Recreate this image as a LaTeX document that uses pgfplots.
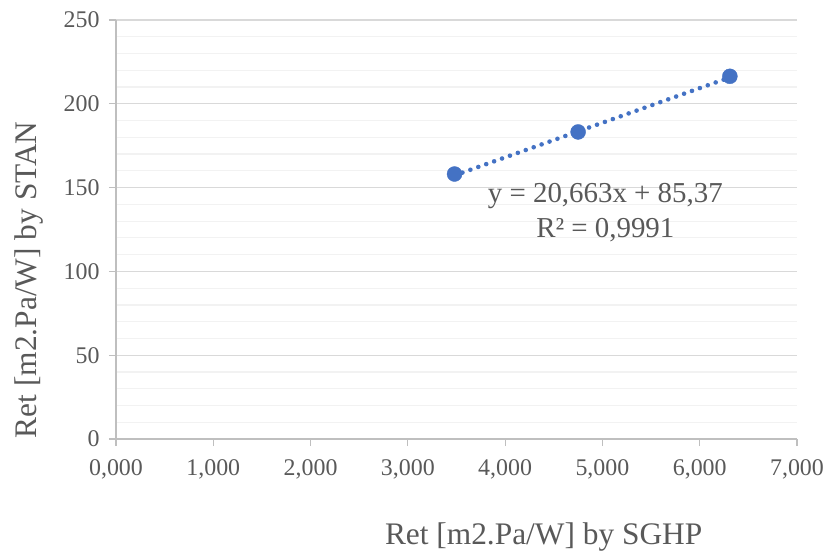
\documentclass[border=0pt]{standalone}
\usepackage{pgfplots}
\pgfplotsset{compat=1.18}
\usepackage{fontspec}
\setmainfont{Liberation Serif}
\definecolor{txt}{HTML}{595959}
\definecolor{majg}{HTML}{D9D9D9}
\definecolor{ming}{HTML}{F2F2F2}
\definecolor{axl}{HTML}{BFBFBF}
\definecolor{ser}{HTML}{4472C4}
\begin{document}
\begin{tikzpicture}
\path[use as bounding box] (-116bp,-116bp) rectangle (710bp,439bp);
\begin{axis}[
  scale only axis,
  width=681bp, height=419bp,
  xmin=0, xmax=7, ymin=0, ymax=250,
  xtick={0,1,2,3,4,5,6,7},
  ytick={0,50,100,150,200,250},
  minor y tick num=4,
  ymajorgrids, yminorgrids,
  major grid style={majg, line width=1.2bp},
  minor grid style={ming, line width=1.2bp},
  axis x line*=bottom, axis y line*=left,
  axis line style={axl, line width=1.2bp, -},
  tick style={axl, line width=1.2bp},
  major tick length=7bp, minor tick length=0pt,
  tick align=outside,
  xtick pos=bottom, ytick pos=left,
  tick label style={font=\fontsize{24}{26}\selectfont, text=txt},
  /pgf/number format/assume math mode=true,
  xticklabel style={/pgf/number format/.cd, fixed, fixed zerofill, precision=3, use comma, /tikz/.cd, yshift=-10bp},
  yticklabel style={/pgf/number format/.cd, fixed, precision=0, /tikz/.cd, xshift=-6bp},
  xlabel={Ret [m2.Pa/W] by SGHP},
  ylabel={Ret [m2.Pa/W] by STAN},
  label style={font=\fontsize{31.5}{34}\selectfont, text=txt},
  xlabel style={at={(axis description cs:0.628,-0.234)}, anchor=center},
  ylabel style={at={(axis description cs:-0.128,0.38)}, anchor=center},
  clip=false,
]
\addplot[ser, line width=4.6bp, line cap=round, dash pattern=on 0bp off 8.4bp] coordinates {(3.48,157.28) (6.31,215.75)};
\addplot[only marks, mark=*, mark size=7.5bp, mark options={ser, fill=ser}] coordinates {(3.48,158.1) (4.75,183.2) (6.31,216.4)};
\node[font=\fontsize{29}{35}\selectfont, text=txt, align=center] at (axis cs:5.03,135) {y = 20,663x + 85,37\\R² = 0,9991};
\end{axis}
\end{tikzpicture}
\end{document}
